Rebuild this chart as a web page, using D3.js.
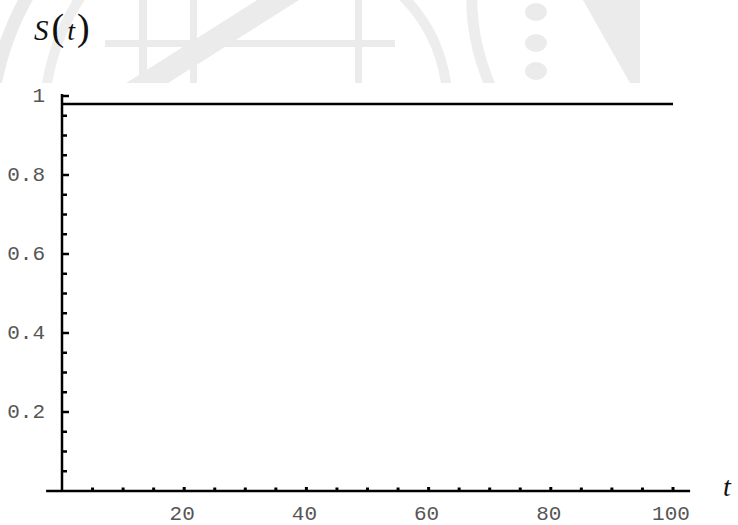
<!DOCTYPE html>
<html>
<head>
<meta charset="utf-8">
<script src="https://cdn.jsdelivr.net/npm/d3@7/dist/d3.min.js"></script>
<style>
  html, body { margin: 0; padding: 0; background: #fff; }
  svg { display: block; }
</style>
</head>
<body>
<svg id="chart" width="738" height="525"></svg>
<script>
// Survival curve S(t) over t
const tValues = [0, 20, 40, 60, 80, 100];
const sValues = [0.98, 0.98, 0.98, 0.98, 0.98, 0.98];

// Axis ticks
const xMajorTicks = [20, 40, 60, 80, 100];
const xMinorTicks = [5, 10, 15, 25, 30, 35, 45, 50, 55, 65, 70, 75, 85, 90, 95];
const yMajorTicks = [0.2, 0.4, 0.6, 0.8, 1];
const yMinorTicks = [0.05, 0.1, 0.15, 0.25, 0.3, 0.35, 0.45, 0.5, 0.55, 0.65, 0.7, 0.75, 0.85, 0.9, 0.95];
const yTickLabels = ["0.2", "0.4", "0.6", "0.8", "1"];
const xTickLabels = ["20", "40", "60", "80", "100"];

const svg = d3.select("#chart");

const x = d3.scaleLinear().domain([0, 100]).range([62, 673]);
const y = d3.scaleLinear().domain([0, 1]).range([491, 96]);

// Faint background emblem along the top edge
const wm = svg.append("g").attr("fill", "#ebebeb").attr("stroke", "none");
wm.append("clipPath").attr("id", "wmclip")
  .append("rect").attr("x", 0).attr("y", 0).attr("width", 738).attr("height", 83);
const wmg = wm.append("g").attr("clip-path", "url(#wmclip)");
wmg.append("path").attr("d", "M -6,90 Q 4,35 30,-8")
  .attr("fill", "none").attr("stroke", "#eaeaea").attr("stroke-width", 13);
wmg.append("path").attr("d", "M 46,90 Q 54,35 84,-8")
  .attr("fill", "none").attr("stroke", "#eeeeee").attr("stroke-width", 10);
wmg.append("polygon").attr("points", "115,90 157,90 307,-5 265,-5");
wmg.append("rect").attr("x", 105).attr("y", 40).attr("width", 290).attr("height", 7);
wmg.append("rect").attr("x", 139).attr("y", 0).attr("width", 8).attr("height", 90);
wmg.append("rect").attr("x", 190).attr("y", 0).attr("width", 7).attr("height", 90);
wmg.append("rect").attr("x", 355).attr("y", 0).attr("width", 7).attr("height", 90);
wmg.append("path").attr("d", "M 398,-8 Q 440,30 447,90")
  .attr("fill", "none").attr("stroke", "#ededed").attr("stroke-width", 10);
wmg.append("path").attr("d", "M 472,-8 Q 470,40 492,90")
  .attr("fill", "none").attr("stroke", "#ededed").attr("stroke-width", 11);
[12, 43, 71].forEach(cy => {
  wmg.append("ellipse").attr("cx", 536).attr("cy", cy).attr("rx", 11).attr("ry", 9);
});
wmg.append("polygon").attr("points", "580,-5 640,-5 640,90 634,90");

// Axes
const axes = svg.append("g").attr("stroke", "#000").attr("stroke-width", 2.5);
axes.append("line")
  .attr("x1", x(-2.6)).attr("x2", x(102.8))
  .attr("y1", y(0)).attr("y2", y(0));
axes.append("line")
  .attr("x1", x(0)).attr("x2", x(0))
  .attr("y1", y(0)).attr("y2", y(1.005));

// y ticks
svg.append("g").selectAll("line").data(yMajorTicks).join("line")
  .attr("x1", x(0)).attr("x2", x(0) + 7)
  .attr("y1", d => y(d)).attr("y2", d => y(d))
  .attr("stroke", "#000").attr("stroke-width", 2.5);
svg.append("g").selectAll("line").data(yMinorTicks).join("line")
  .attr("x1", x(0)).attr("x2", x(0) + 5)
  .attr("y1", d => y(d)).attr("y2", d => y(d))
  .attr("stroke", "#000").attr("stroke-width", 2.5);

// x ticks
svg.append("g").selectAll("line").data(xMajorTicks).join("line")
  .attr("x1", d => x(d)).attr("x2", d => x(d))
  .attr("y1", y(0)).attr("y2", y(0) - 4)
  .attr("stroke", "#000").attr("stroke-width", 3);
svg.append("g").selectAll("line").data(xMinorTicks).join("line")
  .attr("x1", d => x(d)).attr("x2", d => x(d))
  .attr("y1", y(0)).attr("y2", y(0) - 3.5)
  .attr("stroke", "#000").attr("stroke-width", 3);

// Tick labels
const tickFont = "'Liberation Mono', 'Courier New', monospace";
svg.append("g").selectAll("text").data(yMajorTicks).join("text")
  .attr("x", 45).attr("y", d => y(d))
  .attr("text-anchor", "end").attr("dominant-baseline", "central")
  .attr("font-family", tickFont).attr("font-size", 21).attr("fill", "#555")
  .text((d, i) => yTickLabels[i]);
svg.append("g").selectAll("text").data(xMajorTicks).join("text")
  .attr("x", d => x(d) - 2).attr("y", 514)
  .attr("text-anchor", "middle").attr("dominant-baseline", "central")
  .attr("font-family", tickFont).attr("font-size", 21).attr("fill", "#555")
  .text((d, i) => xTickLabels[i]);

// Curve
const line = d3.line().x((d, i) => x(tValues[i])).y(d => y(d));
svg.append("path").datum(sValues)
  .attr("d", line)
  .attr("fill", "none").attr("stroke", "#000").attr("stroke-width", 2.5);

// Axis labels
const serif = "'Liberation Serif', 'Times New Roman', serif";
const yl = svg.append("text").attr("x", 34).attr("y", 40)
  .attr("font-family", serif).attr("fill", "#111");
yl.append("tspan").attr("font-style", "italic").attr("font-size", 29).text("S");
yl.append("tspan").attr("font-size", 38).attr("dx", 3).text("(");
yl.append("tspan").attr("font-style", "italic").attr("font-size", 28).attr("dx", 3).text("t");
yl.append("tspan").attr("font-size", 38).attr("dx", 2).text(")");

svg.append("text").attr("x", 727).attr("y", 496)
  .attr("text-anchor", "middle")
  .attr("font-family", serif).attr("font-style", "italic")
  .attr("font-size", 28).attr("fill", "#111").text("t");
</script>
</body>
</html>
